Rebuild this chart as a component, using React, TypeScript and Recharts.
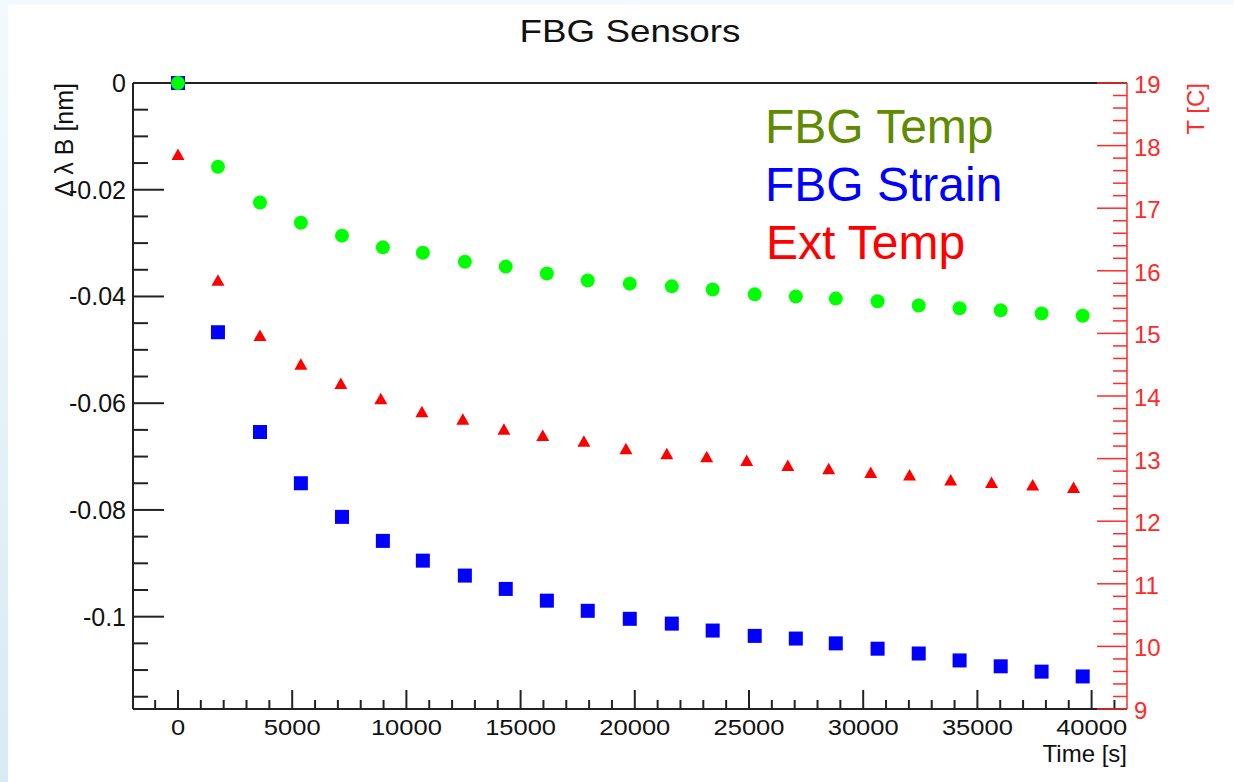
import { ScatterChart, Scatter, XAxis, YAxis, ReferenceLine } from 'recharts';

// time stamps [s] of the FBG readings and of the external thermometer
const fbgTime = [
	0, 1750, 3590, 5380, 7180, 8970, 10720, 12560, 14350, 16150, 17940, 19780,
	21620, 23410, 25250, 27050, 28800, 30630, 32430, 34220, 36020, 37810, 39610,
];
const extTime = [
	0, 1750, 3590, 5380, 7130, 8880, 10680, 12470, 14270, 15970, 17770, 19610,
	21400, 23150, 24900, 26700, 28490, 30330, 32030, 33830, 35620, 37420, 39210,
];

// delta lambda B [nm]
const fbgTemp = [
	0, -0.0157, -0.0224, -0.0262, -0.0286, -0.0308, -0.0318, -0.0335, -0.0344,
	-0.0357, -0.037, -0.0376, -0.0381, -0.0387, -0.0396, -0.04, -0.0404, -0.0409,
	-0.0417, -0.0422, -0.0426, -0.0432, -0.0436,
];
const fbgStrain = [
	0, -0.0467, -0.0654, -0.075, -0.0813, -0.0858, -0.0895, -0.0923, -0.0948,
	-0.097, -0.0989, -0.1004, -0.1013, -0.1026, -0.1036, -0.1041, -0.105, -0.106,
	-0.1069, -0.1082, -0.1093, -0.1103, -0.1112,
];

// T [C]
const extTemp = [
	17.85, 15.84, 14.96, 14.5, 14.19, 13.95, 13.74, 13.62, 13.46, 13.36, 13.27,
	13.15, 13.07, 13.02, 12.96, 12.88, 12.83, 12.77, 12.73, 12.65, 12.61, 12.57,
	12.53,
];

const xMajor = [0, 5000, 10000, 15000, 20000, 25000, 30000, 35000, 40000];
const leftMajor = [0, -0.02, -0.04, -0.06, -0.08, -0.1];
const rightMajor = [9, 10, 11, 12, 13, 14, 15, 16, 17, 18, 19];

const steps = (from: number, to: number, step: number) => {
	const out: number[] = [];
	const n = Math.round((to - from) / step);
	for (let i = 0; i <= n; i++) out.push(Math.round((from + i * step) * 1e6) / 1e6);
	return out;
};
const xTicks = steps(-1000, 41000, 1000);
const leftTicks = steps(-0.115, 0, 0.005);
const rightTicks = steps(9, 19, 0.2);

const isMajor = (v: number, majors: number[]) =>
	majors.some((m) => Math.abs(m - v) < 1e-7);

const FONT = '"Liberation Sans", Arial, sans-serif';
const AXIS = '#222';
const RED = '#ff2a2a';

const tempData = fbgTime.map((t, i) => ({ x: t, y: fbgTemp[i] }));
const strainData = fbgTime.map((t, i) => ({ x: t, y: fbgStrain[i] }));
const extData = extTime.map((t, i) => ({ x: t, y: extTemp[i] }));

const XTick = (props: any) => {
	const { x, y, payload } = props;
	const major = isMajor(payload.value, xMajor);
	return (
		<g>
			<line x1={x} x2={x} y1={y} y2={y - (major ? 19 : 9)} stroke={AXIS} strokeWidth={2} />
			{major && (
				<text
					transform={`translate(${x} ${y + 26}) scale(1.16 1)`}
					textAnchor='middle'
					fontFamily={FONT}
					fontSize={22}
					fill='#111'
				>
					{payload.value}
				</text>
			)}
		</g>
	);
};

const LeftTick = (props: any) => {
	const { x, y, payload } = props;
	const major = isMajor(payload.value, leftMajor);
	return (
		<g>
			<line x1={x} x2={x + (major ? 31 : 15)} y1={y} y2={y} stroke={AXIS} strokeWidth={2} />
			{major && (
				<text x={x - 7} y={y + 9} textAnchor='end' fontFamily={FONT} fontSize={25} fill='#111'>
					{String(payload.value)}
				</text>
			)}
		</g>
	);
};

const RightTick = (props: any) => {
	const { x, y, payload } = props;
	const major = isMajor(payload.value, rightMajor);
	return (
		<g>
			<line x1={x} x2={x - (major ? 30 : 14)} y1={y} y2={y} stroke={RED} strokeWidth={1.5} />
			{major && (
				<text x={x + 7} y={y + 10} textAnchor='start' fontFamily={FONT} fontSize={24} fill={RED}>
					{payload.value}
				</text>
			)}
		</g>
	);
};

const Square = (p: any) => (
	<rect x={p.cx - 7} y={p.cy - 7} width={14} height={14} fill='#0000ff' />
);
const Dot = (p: any) => <circle cx={p.cx} cy={p.cy} r={7} fill='#00ff00' />;
const Tri = (p: any) => (
	<polygon
		points={`${p.cx},${p.cy - 6.5} ${p.cx - 6.5},${p.cy + 5} ${p.cx + 6.5},${p.cy + 5}`}
		fill='#ff0000'
	/>
);

const App = () => {
	return (
		<div
			style={{
				position: 'absolute',
				left: 0,
				top: 0,
				width: 1234,
				height: 782,
				background: 'linear-gradient(#f3fafd, #d8eaf3)',
				overflow: 'hidden',
			}}
		>
			<div
				style={{
					position: 'absolute',
					left: 8,
					top: 5,
					width: 1226,
					height: 777,
					background: '#fff',
				}}
			/>
			<div style={{ position: 'absolute', left: 0, top: 0 }}>
				<ScatterChart
					width={1234}
					height={782}
					margin={{ top: 83, right: 47, left: 73, bottom: 33 }}
				>
					<XAxis
						type='number'
						dataKey='x'
						domain={[-1970, 41550]}
						ticks={xTicks}
						interval={0}
						height={40}
						tickSize={0}
						tickMargin={0}
						tickLine={false}
						tick={XTick}
						axisLine={{ stroke: AXIS, strokeWidth: 2 }}
					/>
					<YAxis
						yAxisId='left'
						type='number'
						dataKey='y'
						domain={[-0.1173, 0]}
						ticks={leftTicks}
						interval={0}
						width={60}
						tickSize={0}
						tickMargin={0}
						tickLine={false}
						tick={LeftTick}
						axisLine={{ stroke: AXIS, strokeWidth: 2 }}
					/>
					<YAxis
						yAxisId='right'
						orientation='right'
						type='number'
						dataKey='y'
						domain={[9, 19]}
						ticks={rightTicks}
						interval={0}
						width={60}
						tickSize={0}
						tickMargin={0}
						tickLine={false}
						tick={RightTick}
						axisLine={{ stroke: RED, strokeWidth: 1.5 }}
					/>
					<ReferenceLine yAxisId='left' y={0} stroke={AXIS} strokeWidth={2} />
					<Scatter
						yAxisId='left'
						data={strainData}
						shape={Square}
						isAnimationActive={false}
					/>
					<Scatter
						yAxisId='left'
						data={tempData}
						shape={Dot}
						isAnimationActive={false}
					/>
					<Scatter
						yAxisId='right'
						data={extData}
						shape={Tri}
						isAnimationActive={false}
					/>
				</ScatterChart>
			</div>
			<svg
				width={1234}
				height={782}
				style={{ position: 'absolute', left: 0, top: 0, pointerEvents: 'none' }}
				fontFamily={FONT}
			>
				<text
					transform='translate(630 42) scale(1.15 1)'
					textAnchor='middle'
					fontSize={32}
					fill='#111'
				>
					FBG Sensors
				</text>
				<text x={765} y={143} fontSize={48} fill='#5f8b00'>
					FBG Temp
				</text>
				<text x={765} y={201} fontSize={48} fill='#0000ff'>
					FBG Strain
				</text>
				<text x={766} y={259} fontSize={48} fill='#ff0000'>
					Ext Temp
				</text>
				<text
					transform='translate(73 83) rotate(-90)'
					textAnchor='end'
					fontSize={25}
					fill='#111'
				>
					Δ λ B [nm]
				</text>
				<text
					transform='translate(1204 83) rotate(-90)'
					textAnchor='end'
					fontSize={24}
					fill={RED}
				>
					T [C]
				</text>
				<text x={1127} y={762} textAnchor='end' fontSize={24} fill='#111'>
					Time [s]
				</text>
			</svg>
		</div>
	);
};

export default App;
